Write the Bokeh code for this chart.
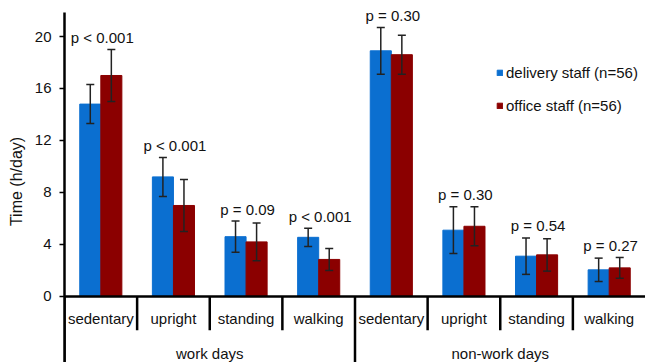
from bokeh.plotting import figure
from bokeh.models import (ColumnDataSource, FactorRange, Range1d, FixedTicker, Span,
                          Whisker, TeeHead, Legend, LegendItem)
from bokeh.transform import dodge
from bokeh.core.properties import value
from bokeh.embed import file_html
from bokeh.resources import INLINE

# Mean daily time (h/day) per activity, with standard deviations
groups = ["work days"] * 4 + ["non-work days"] * 4
activities = ["sedentary", "upright", "standing", "walking"] * 2
delivery_mean = [14.8, 9.2, 4.6, 4.55, 18.9, 5.1, 3.1, 2.05]
delivery_sd = [1.5, 1.5, 1.2, 0.7, 1.8, 1.8, 1.4, 0.9]
office_mean = [17.0, 7.0, 4.2, 2.85, 18.6, 5.4, 3.2, 2.2]
office_sd = [2.0, 2.0, 1.45, 0.85, 1.5, 1.5, 1.25, 0.8]
p_labels = ["p < 0.001", "p < 0.001", "p = 0.09", "p < 0.001",
            "p = 0.30", "p = 0.30", "p = 0.54", "p = 0.27"]
group_names = ["work days", "non-work days"]
y_ticks = [0, 4, 8, 12, 16, 20]
series_names = ["delivery staff (n=56)", "office staff (n=56)"]

BLUE = "#0b6fd0"
RED = "#8b0000"
INK = "#111111"
FONT = "Liberation Sans"

factors = list(zip(groups, activities))
src = ColumnDataSource(dict(
    xf=factors,
    d=delivery_mean,
    d_lo=[m - s for m, s in zip(delivery_mean, delivery_sd)],
    d_hi=[m + s for m, s in zip(delivery_mean, delivery_sd)],
    o=office_mean,
    o_lo=[m - s for m, s in zip(office_mean, office_sd)],
    o_hi=[m + s for m, s in zip(office_mean, office_sd)],
    p_y=[max(dm + ds, om + os) for dm, ds, om, os in
         zip(delivery_mean, delivery_sd, office_mean, office_sd)],
    p_txt=p_labels,
))

x_range = FactorRange(factors=factors, factor_padding=0, group_padding=0,
                      range_padding=0)
# frame spans the area under the category axis too (for its labels)
y_min, y_max = -5.08, 22.77
axis_top = 21.85

p = figure(width=645, height=362, x_range=x_range, y_range=Range1d(y_min, y_max),
           output_backend="svg", toolbar_location=None, x_axis_location=None,
           min_border_left=64, min_border_right=0, min_border_top=0,
           min_border_bottom=0)
p.outline_line_color = None
p.xgrid.visible = False
p.ygrid.visible = False
p.background_fill_color = "white"

# left value axis
ax = p.yaxis[0]
ax.bounds = (y_min, axis_top)
ax.ticker = FixedTicker(ticks=y_ticks)
ax.axis_label = "Time (h/day)"
ax.axis_label_text_font = FONT
ax.axis_label_text_font_size = "16px"
ax.axis_label_text_font_style = "normal"
ax.axis_label_text_color = INK
ax.axis_label_standoff = 7
ax.axis_line_width = 2.5
ax.axis_line_color = "black"
ax.major_tick_out = 5
ax.major_tick_in = 0
ax.major_tick_line_width = 1.5
ax.minor_tick_line_color = None
ax.major_label_text_font = FONT
ax.major_label_text_font_size = "15px"
ax.major_label_text_color = INK
ax.major_label_standoff = 8

# bars
w = 0.29
off = 0.145
r_d = p.vbar(x=dodge("xf", -off, range=x_range), top="d", width=w, source=src,
             fill_color=BLUE, line_color=BLUE)
r_o = p.vbar(x=dodge("xf", off, range=x_range), top="o", width=w, source=src,
             fill_color=RED, line_color=RED)

# error bars
for base, lo, hi in ((-off, "d_lo", "d_hi"), (off, "o_lo", "o_hi")):
    wk = Whisker(base=dodge("xf", base, range=x_range), lower=lo, upper=hi,
                 source=src, level="annotation", line_color="#222222",
                 line_width=1.5,
                 upper_head=TeeHead(size=8, line_width=1.5, line_color="#222222"),
                 lower_head=TeeHead(size=8, line_width=1.5, line_color="#222222"))
    p.add_layout(wk)

# p-value labels above each pair
p.text(x=dodge("xf", 0.02, range=x_range), y="p_y", text="p_txt", source=src,
       text_font=value(FONT), text_font_size="15px", text_color=INK,
       text_align="center", text_baseline="middle", y_offset=-12)

# horizontal category axis line at zero
p.add_layout(Span(location=0, dimension="width", line_color="black",
                  line_width=2.5, level="overlay"))

# category separators: long at group boundaries, short between categories
sep_x, sep_y1 = [], []
for i, (g, a) in enumerate(factors):
    first_in_group = i == 0 or groups[i - 1] != g
    sep_x.append((g, a, -0.5))
    sep_y1.append(y_min if first_in_group else -2.6)
p.segment(x0=sep_x, y0=[0] * len(sep_x), x1=sep_x, y1=sep_y1,
          line_color="black", line_width=2.5)

# category labels and group labels under the axis
p.text(x=factors, y=[0] * len(factors), text=activities, text_font=value(FONT),
       text_font_size="15px", text_color=INK, text_align="center",
       text_baseline="middle", y_offset=22)
p.text(x=group_names, y=[0] * len(group_names), text=group_names,
       text_font=value(FONT), text_font_size="15px", text_color=INK,
       text_align="center", text_baseline="middle", y_offset=57)

legend = Legend(items=[LegendItem(label=series_names[0], renderers=[r_d]),
                       LegendItem(label=series_names[1], renderers=[r_o])],
                location=(432, 247), orientation="vertical",
                glyph_width=7, glyph_height=7, label_height=20, spacing=13,
                label_standoff=3, padding=0, margin=0,
                border_line_color=None, background_fill_alpha=0,
                label_text_font=FONT, label_text_font_size="15px",
                label_text_color=INK)
p.add_layout(legend, "center")

open("out.html", "w").write(file_html(p, INLINE))
